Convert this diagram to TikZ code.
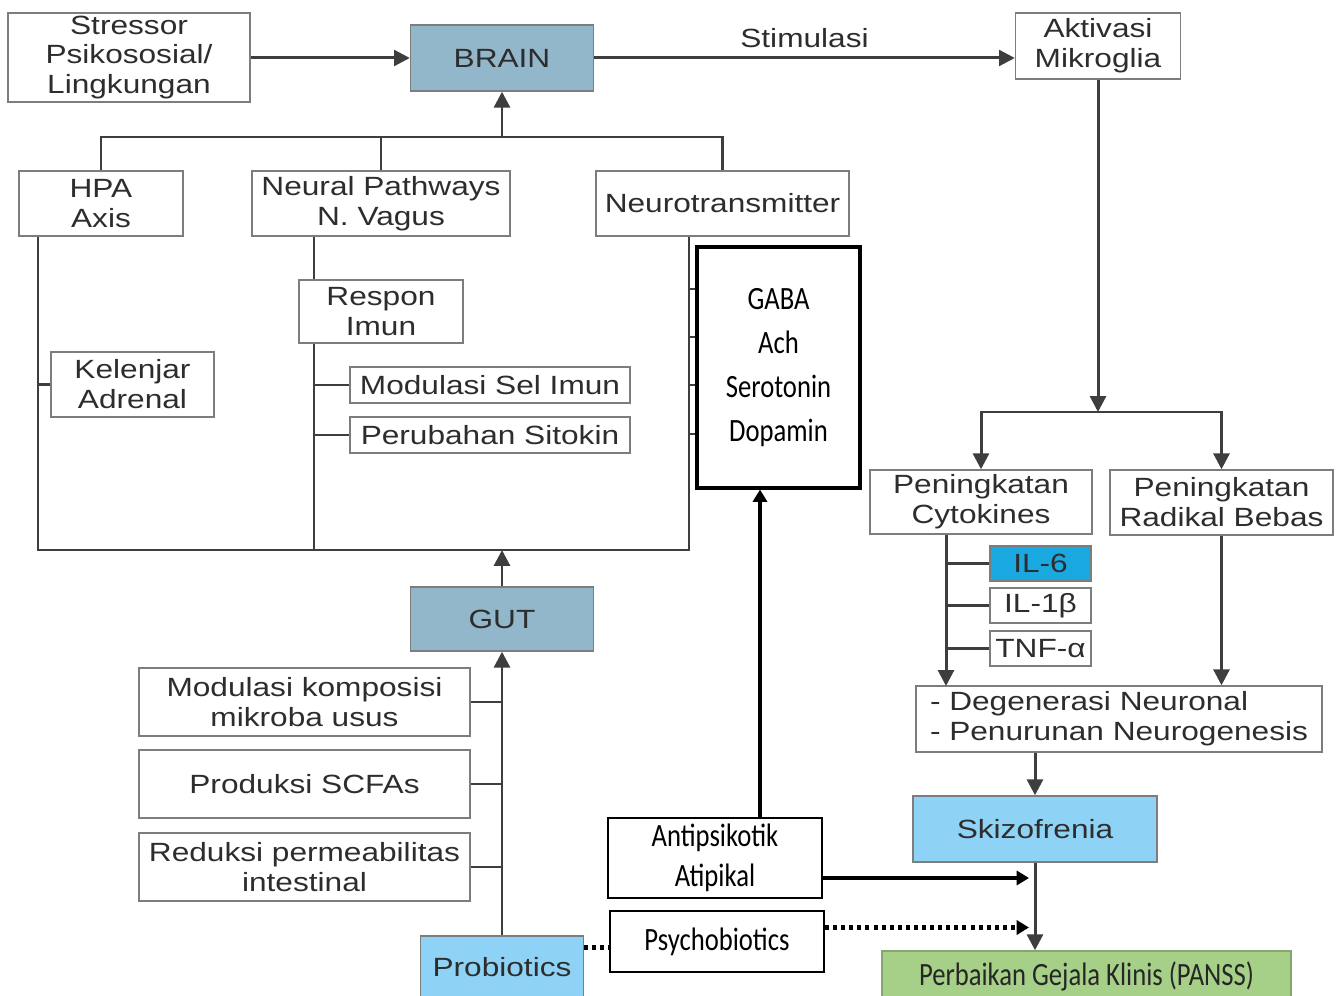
\documentclass[tikz,border=0pt]{standalone}
\usepackage{fontspec}
\setmainfont{Liberation Sans}[FakeStretch=1.2]
\newfontfamily\calibri{Carlito}[FakeStretch=0.82]
\usepackage{xcolor}
\usepackage{tikz}
\usetikzlibrary{positioning,arrows.meta,calc}

\definecolor{greyblue}{RGB}{146,182,202}
\definecolor{skyblue}{RGB}{142,210,245}
\definecolor{ilblue}{RGB}{26,168,224}
\definecolor{leafgreen}{RGB}{166,208,136}
\definecolor{linegrey}{RGB}{62,62,62}
\definecolor{boxgrey}{RGB}{125,125,125}
\definecolor{textgrey}{RGB}{45,45,45}

\begin{document}
\begin{tikzpicture}[x=0.02cm, y=-0.02cm,
    block/.style={
        rectangle,
        draw=boxgrey,
        line width=0.8pt,
        fill=white,
        align=center,
        inner sep=0pt,
        text=textgrey,
        font=\fontsize{15}{17}\selectfont
    },
    drugblock/.style={
        rectangle,
        draw=black,
        line width=1.2pt,
        fill=white,
        align=center,
        inner sep=0pt,
        font=\calibri\fontsize{18.5}{23}\selectfont
    },
    link/.style={draw=linegrey, line width=1.7pt},
    arrow/.style={link, -{Triangle[length=9pt, width=9pt]}},
    boldarrow/.style={draw=black, line width=2.6pt, -{Triangle[length=7pt, width=8pt]}},
    dotlink/.style={draw=black, line width=2.6pt, dash pattern=on 2.3pt off 2.3pt},
    dotarrow/.style={dotlink, -{Triangle[length=7pt, width=8pt]}}]

    \useasboundingbox (0,0) rectangle (1340,996);

    % Top row
    \node[block, minimum width=4.84cm, minimum height=1.78cm] (stressor) at (129,57.5) {Stressor\\Psikososial/\\Lingkungan};
    \node[block, fill=greyblue, minimum width=3.66cm, minimum height=1.32cm] (brain) at (502,58) {BRAIN};
    \node[block, minimum width=3.3cm, minimum height=1.32cm] (aktivasi) at (1098,46) {Aktivasi\\Mikroglia};

    \draw[arrow] (stressor.east |- brain.west) -- (brain.west);
    \draw[arrow] (brain.east) -- (brain.east -| aktivasi.west)
        node[midway, above=5pt, inner sep=0pt, text=textgrey, font=\fontsize{15}{17}\selectfont] {Stimulasi};

    % Gut-brain axis pathways
    \node[block, minimum width=3.28cm, minimum height=1.3cm] (hpa) at (101,203.5) {HPA\\Axis};
    \node[block, minimum width=5.16cm, minimum height=1.3cm] (neural) at (381,203.5) {Neural Pathways\\N. Vagus};
    \node[block, minimum width=5.06cm, minimum height=1.3cm] (neurotrans) at (722.5,203.5) {Neurotransmitter};

    \coordinate (top bus) at (502,137);
    \draw[link] (hpa.north) |- (top bus) -| (neurotrans.north);
    \draw[link] (neural.north) -- (neural.north |- top bus);
    \draw[arrow] (top bus) -- (brain.south);

    \node[block, minimum width=3.28cm, minimum height=1.26cm] (respon) at (381,311.5) {Respon\\Imun};
    \node[block, minimum width=3.26cm, minimum height=1.3cm] (kelenjar) at (132.5,384.5) {Kelenjar\\Adrenal};
    \node[block, minimum width=5.6cm, minimum height=0.72cm] (modsel) at (490,385) {Modulasi Sel Imun};
    \node[block, minimum width=5.6cm, minimum height=0.72cm] (sitokin) at (490,435) {Perubahan Sitokin};
    \node[drugblock, line width=1.8pt, font=\calibri\fontsize{18.5}{25}\selectfont,
        minimum width=3.26cm, minimum height=4.82cm] (gaba) at (778.5,367.5) {GABA\\Ach\\Serotonin\\Dopamin};

    % Rails down to the gut
    \coordinate (left rail) at (38,550);
    \coordinate (mid rail) at (314,550);
    \coordinate (right rail) at (689,550);
    \draw[link] (hpa.south -| left rail) -- (left rail) -- (right rail) -- (neurotrans.south -| right rail);
    \draw[link] (neural.south -| mid rail) -- (respon.north -| mid rail);
    \draw[link] (respon.south -| mid rail) -- (mid rail);
    \draw[link] (kelenjar.west -| left rail) -- (kelenjar.west);
    \draw[link] (modsel.west -| mid rail) -- (modsel.west);
    \draw[link] (sitokin.west -| mid rail) -- (sitokin.west);
    \foreach \y in {289,337,385,434}
        \draw[link] (right rail |- 0,\y) -- (gaba.west |- 0,\y);

    % Gut and probiotics
    \node[block, fill=greyblue, minimum width=3.66cm, minimum height=1.28cm] (gut) at (502,619) {GUT};
    \node[block, fill=skyblue, minimum width=3.26cm, minimum height=1.26cm] (probiotics) at (502,967.5) {Probiotics};
    \node[block, minimum width=6.62cm, minimum height=1.36cm] (komposisi) at (304.5,702) {Modulasi komposisi\\mikroba usus};
    \node[block, minimum width=6.62cm, minimum height=1.36cm] (scfa) at (304.5,784) {Produksi SCFAs};
    \node[block, minimum width=6.62cm, minimum height=1.36cm] (reduksi) at (304.5,867) {Reduksi permeabilitas\\intestinal};

    \draw[arrow] (gut.north) -- (gut.north |- left rail);
    \draw[arrow] (probiotics.north) -- (gut.south);
    \draw[link] (komposisi.east) -- (komposisi.east -| gut.south);
    \draw[link] (scfa.east) -- (scfa.east -| gut.south);
    \draw[link] (reduksi.east) -- (reduksi.east -| gut.south);

    % Therapy
    \node[drugblock, minimum width=4.28cm, minimum height=1.6cm] (antipsi) at (715,858) {Antipsikotik\\Atipikal};
    \node[drugblock, minimum width=4.28cm, minimum height=1.22cm] (psycho) at (717,941.5) {Psychobiotics};

    \coordinate (antipsi top) at ($(antipsi.north)+(45,0)$);
    \draw[boldarrow] (antipsi top) -- (antipsi top |- gaba.south);
    \draw[dotlink] ($(probiotics.east)+(0,-20)$) -- ($(psycho.west)+(0,6)$);

    % Microglia branch
    \node[block, minimum width=4.44cm, minimum height=1.28cm] (cytokines) at (981,502) {Peningkatan\\Cytokines};
    \node[block, minimum width=4.46cm, minimum height=1.3cm] (radikal) at (1221.5,502.5) {Peningkatan\\Radikal Bebas};
    \node[block, fill=ilblue, minimum width=2.02cm, minimum height=0.7cm] (il6) at (1040.5,563.5) {IL-6};
    \node[block, minimum width=2.02cm, minimum height=0.7cm] (il1b) at (1040.5,605.5) {IL-1β};
    \node[block, minimum width=2.02cm, minimum height=0.7cm] (tnf) at (1040.5,648.5) {TNF-α};
    \node[block, minimum width=8.12cm, minimum height=1.32cm, align=left] (degen) at (1119,719) {- Degenerasi Neuronal\\- Penurunan Neurogenesis};
    \node[block, fill=skyblue, minimum width=4.88cm, minimum height=1.32cm] (skizo) at (1035,829) {Skizofrenia};
    \node[block, fill=leafgreen, draw=leafgreen!80!black, text=black!85, font=\calibri\fontsize{18.5}{20}\selectfont,
        minimum width=8.18cm, minimum height=1.0cm] (panss) at (1086.5,976) {Perbaikan Gejala Klinis (PANSS)};

    \coordinate (split) at (aktivasi.south |- 0,412);
    \coordinate (cyto rail) at (946,686);
    \draw[arrow] (aktivasi.south) -- (split);
    \draw[arrow] (split) -| (cytokines.north);
    \draw[arrow] (split) -| (radikal.north);
    \draw[arrow] (cytokines.south -| cyto rail) -- (cyto rail);
    \draw[link] (il6.west -| cyto rail) -- (il6.west);
    \draw[link] (il1b.west -| cyto rail) -- (il1b.west);
    \draw[link] (tnf.west -| cyto rail) -- (tnf.west);
    \draw[arrow] (radikal.south) -- (radikal.south |- degen.north);
    \draw[arrow] (skizo.north |- degen.south) -- (skizo.north);
    \draw[arrow] (skizo.south) -- (skizo.south |- panss.north);

    % Treatment effect
    \draw[boldarrow] ($(antipsi.east)+(0,20)$) -- ($(antipsi.east -| skizo.south)+(-6,20)$);
    \draw[dotarrow] ($(psycho.east)+(0,-14)$) -- ($(psycho.east -| skizo.south)+(-6,-14)$);
\end{tikzpicture}
\end{document}
